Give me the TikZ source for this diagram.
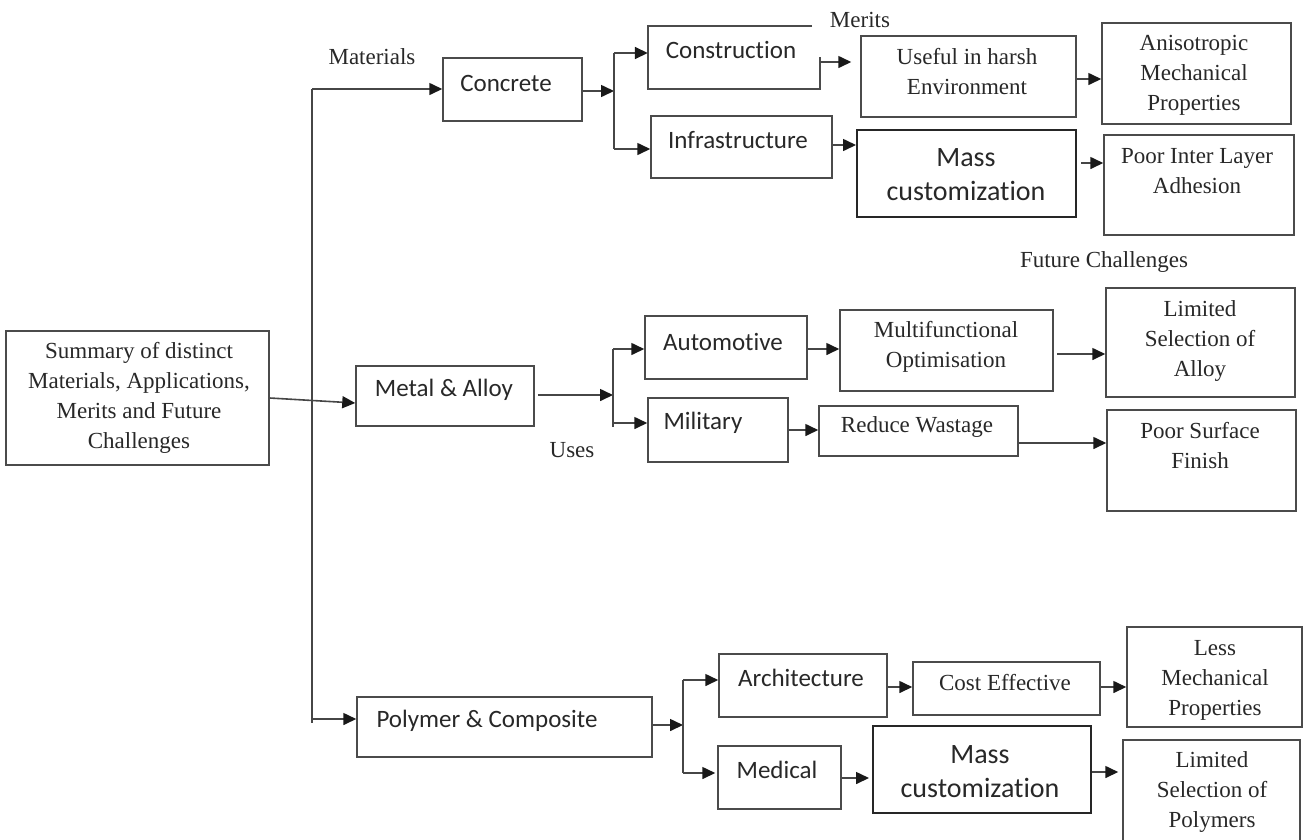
\documentclass[tikz,border=0pt]{standalone}
\usepackage{fontspec}
\setmainfont{Liberation Serif}
\newfontfamily\carl[Ligatures=NoCommon]{Carlito}
\usetikzlibrary{arrows.meta}
\definecolor{lc}{RGB}{70,70,70}
\definecolor{bc}{RGB}{75,75,75}
\definecolor{tc}{RGB}{40,40,40}
\tikzset{
  ln/.style={draw=lc, line width=1.6pt},
  arr/.style={ln, -{Triangle[length=13pt,width=12pt,color=black!90]}},
  box/.style={draw=bc, line width=1.5pt, inner sep=0pt, rectangle},
  mbox/.style={draw=black!85, line width=2pt, inner sep=0pt, rectangle},
  nobox/.style={inner sep=0pt, rectangle},
  serif/.style={font=\fontsize{23}{30}\selectfont, align=center, text=tc, inner sep=0pt},
  sans/.style={font=\carl\fontsize{25}{30}\selectfont, align=center, text=tc, inner sep=0pt},
  sansL/.style={font=\carl\fontsize{28}{34}\selectfont, align=center, text=tc, inner sep=0pt},
}
\newcommand\mkbox[6][box]{\node[#1, minimum width={(#5-#3)*1pt}, minimum height={(#6-#4)*1pt}] (#2) at ({(#3+#5)/2},{(#4+#6)/2}) {};}
\begin{document}
\begin{tikzpicture}[x=1pt,y=-1pt]
\useasboundingbox[fill=white] (0,0) rectangle (1304,839);
% boxes
\mkbox{summary}{6}{331}{269}{465}
\mkbox{concrete}{443}{58}{582}{121}
\mkbox[nobox]{construction}{648}{26}{820}{89}
\mkbox{infra}{651}{116}{832}{178}
\mkbox{useful}{861}{36}{1076}{117}
\mkbox{aniso}{1102}{23}{1291}{124}
\mkbox[mbox]{massA}{857}{130}{1076}{217}
\mkbox{poorinter}{1104}{135}{1294}{235}
\mkbox{metal}{356}{366}{534}{426}
\mkbox{auto}{645}{316}{807}{379}
\mkbox{military}{648}{398}{788}{462}
\mkbox{multi}{840}{310}{1053}{391}
\mkbox{reduce}{819}{406}{1018}{456}
\mkbox{limalloy}{1106}{288}{1295}{397}
\mkbox{poorsurf}{1107}{410}{1296}{511}
\mkbox{polymer}{357}{697}{652}{757}
\mkbox{arch}{719}{654}{887}{717}
\mkbox{medical}{718}{746}{841}{809}
\mkbox{cost}{913}{662}{1100}{715}
\mkbox{less}{1127}{627}{1302}{727}
\mkbox[mbox]{massB}{873}{726}{1091}{813}
\mkbox{limpoly}{1123}{740}{1300}{850}
% construction box with open top-right corner
\draw[draw=bc, line width=1.5pt] ([xshift=-8pt]construction.north east) -- (construction.north west) -- (construction.south west) -- (construction.south east) -- ([yshift=-31pt]construction.north east);
% texts
\node[serif] (summaryT) at (139,398) {Summary of distinct\\Materials, Applications,\\Merits and Future\\Challenges};
\node[sans] (concreteT) at (506,83) {Concrete};
\node[sans] (constructionT) at (731,50) {Construction};
\node[sans] (infraT) at (738,140) {Infrastructure};
\node[serif] (usefulT) at (967,72) {Useful in harsh\\Environment};
\node[serif] (anisoT) at (1194,75) {Anisotropic\\Mechanical\\Properties};
\node[sansL] (massAT) at (966,175) {Mass\\customization};
\node[serif] (poorinterT) at (1197,171) {Poor Inter Layer\\Adhesion};
\node[sans] (metalT) at (444,390) {Metal \& Alloy};
\node[sans] (autoT) at (723,342) {Automotive};
\node[serif] (multiT) at (946,347) {Multifunctional\\Optimisation};
\node[serif] (limalloyT) at (1200,341) {Limited\\Selection of\\Alloy};
\node[sans] (militaryT) at (703,423) {Military};
\node[serif] (reduceT) at (917,427) {Reduce Wastage};
\node[serif] (poorsurfT) at (1200,446) {Poor Surface\\Finish};
\node[sans] (polymerT) at (487,721) {Polymer \& Composite};
\node[sans] (archT) at (801,678) {Architecture};
\node[sans] (medicalT) at (777,770) {Medical};
\node[serif] (costT) at (1005,683) {Cost Effective};
\node[serif] (lessT) at (1215,680) {Less\\Mechanical\\Properties};
\node[sansL] (massBT) at (980,772) {Mass\\customization};
\node[serif] (limpolyT) at (1212,792) {Limited\\Selection of\\Polymers};
% labels
\node[serif] (matL) at (372,57) {Materials};
\node[serif] (meritsL) at (860,20) {Merits};
\node[serif] (futureL) at (1104,262) {Future Challenges};
\node[serif] (usesL) at (572,450) {Uses};
% branch coordinates
\coordinate (tTop) at (312,89);
\coordinate (tBot) at (312,723);
\coordinate (tPoly) at (312,719);
\coordinate (b1) at (614,91);
\coordinate (b1a) at (614,53);
\coordinate (b1b) at (614,149);
\coordinate (b2) at (613,395);
\coordinate (b2a) at (613,349);
\coordinate (b2b) at (613,423);
\coordinate (b2c) at (613,427);
\coordinate (b3) at (683,725);
\coordinate (b3a) at (683,680);
\coordinate (b3b) at (683,773);
% trunk
\draw[ln] (tTop) -- (tBot);
\draw[arr] (tTop) -- (tTop -| concrete.west);
\draw[arr] (tPoly) -- (tPoly -| polymer.west);
\draw[arr] (summary.east) -- ([yshift=-7pt]metal.west);
% concrete branch
\draw[arr] (concrete.east |- b1) -- (b1);
\draw[ln] (b1a) -- (b1b);
\draw[arr] (b1a) -- (b1a -| construction.west);
\draw[arr] (b1b) -- (b1b -| infra.west);
\draw[arr, shorten >=9pt] (construction.east |- 0,62) -- (useful.west |- 0,62);
\draw[arr] (infra.east |- 0,145) -- (massA.west |- 0,145);
\draw[arr] (useful.east |- 0,79) -- (aniso.west |- 0,79);
\draw[arr, shorten <=4pt] (massA.east |- 0,163) -- (poorinter.west |- 0,163);
% metal branch
\draw[arr, shorten <=3pt] (metal.east |- b2) -- (b2);
\draw[ln] (b2a) -- (b2c);
\draw[arr] (b2a) -- (b2a -| auto.west);
\draw[arr] (b2b) -- (b2b -| military.west);
\draw[arr] (auto.east |- 0,349) -- (multi.west |- 0,349);
\draw[arr, shorten <=3pt] (multi.east |- 0,354) -- (limalloy.west |- 0,354);
\draw[arr] (military.east |- 0,430) -- (reduce.west |- 0,430);
\draw[arr] (reduce.east |- 0,443) -- (poorsurf.west |- 0,443);
% polymer branch
\draw[arr] (polymer.east |- b3) -- (b3);
\draw[ln] (b3a) -- (b3b);
\draw[arr] (b3a) -- (b3a -| arch.west);
\draw[arr, shorten >=2pt] (b3b) -- (b3b -| medical.west);
\draw[arr] (arch.east |- 0,687) -- (cost.west |- 0,687);
\draw[arr] (cost.east |- 0,687) -- (less.west |- 0,687);
\draw[arr, shorten >=3pt] (medical.east |- 0,778) -- (massB.west |- 0,778);
\draw[arr, shorten >=4pt] (massB.east |- 0,772) -- (limpoly.west |- 0,772);
\end{tikzpicture}
\end{document}
